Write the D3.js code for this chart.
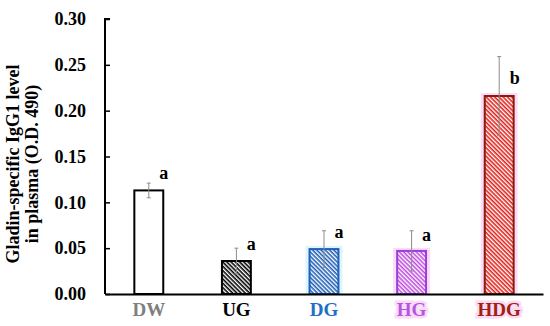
<!DOCTYPE html>
<meta charset="utf-8">
<title>Gliadin IgG1</title>
<style>
    body { margin: 0; background: #fff; }
    text { font-family: "Liberation Serif", "Times New Roman", serif; font-weight: bold; }
</style>
<body>
<div id="chart"></div>
<script src="https://d3js.org/d3.v7.min.js"></script>
<script>
    // data
    var groups = ["DW", "UG", "DG", "HG", "HDG"];
    var means = [0.113, 0.036, 0.049, 0.047, 0.216];
    var errs = [0.008, 0.014, 0.020, 0.022, 0.043];
    var letters = ["a", "a", "a", "a", "b"];
    var letterAt = [0.125, 0.048, 0.061, 0.058, 0.229];
    var yTicks = [0, 0.05, 0.10, 0.15, 0.20, 0.25, 0.30];

    var labelColor = ["#7f7f7f", "#000000", "#1f6fc4", "#b455e6", "#a3200f"];
    var strokeColor = ["#000000", "#000000", "#1f5fb8", "#9a3fd9", "#8b1a0a"];
    var hatchColor = [null, "#000000", "#1f5fb8", "#c04ce0", "#e0201a"];
    var glowColor = [null, null, "#dcf5ff", "#fbdcf7", "#fbdcf7"];

    var W = 550, H = 326;
    var margin = { top: 19, right: 7, bottom: 32, left: 105 };

    var svg = d3.select("#chart").append("svg")
        .attr("width", W).attr("height", H);

    var defs = svg.append("defs");
    hatchColor.forEach(function (c, i) {
        if (!c) return;
        var p = defs.append("pattern")
            .attr("id", "hatch" + i)
            .attr("patternUnits", "userSpaceOnUse")
            .attr("width", 3).attr("height", 3)
            .attr("patternTransform", "rotate(45)");
        p.append("rect").attr("width", 3).attr("height", 3).attr("fill", "#fff");
        p.append("rect").attr("width", 3).attr("height", 1.6).attr("fill", c);
    });

    var x = d3.scaleBand().domain(groups)
        .range([margin.left, W - margin.right])
        .paddingInner(0.67).paddingOuter(0.335);
    var y = d3.scaleLinear().domain([0, 0.30]).range([H - margin.bottom, margin.top]);

    // glow behind some bars
    svg.selectAll("rect.glow")
        .data(groups.filter(function (d, i) { return glowColor[i]; }))
        .enter().append("rect")
        .attr("class", "glow")
        .attr("x", function (d) { return x(d) - 4; })
        .attr("y", function (d) { return y(means[groups.indexOf(d)]) - 3; })
        .attr("width", x.bandwidth() + 8)
        .attr("height", function (d) { return y(0) - y(means[groups.indexOf(d)]) + 3; })
        .attr("fill", function (d) { return glowColor[groups.indexOf(d)]; });

    // bars
    svg.selectAll("rect.bar")
        .data(groups)
        .enter().append("rect")
        .attr("class", "bar")
        .attr("x", function (d) { return x(d); })
        .attr("y", function (d, i) { return y(means[i]); })
        .attr("width", x.bandwidth())
        .attr("height", function (d, i) { return y(0) - y(means[i]); })
        .attr("fill", function (d, i) { return hatchColor[i] ? "url(#hatch" + i + ")" : "#fff"; })
        .attr("stroke", function (d, i) { return strokeColor[i]; })
        .attr("stroke-width", 2);

    // error bars
    var eb = svg.selectAll("g.err").data(groups).enter().append("g")
        .attr("stroke", "#8c8c8c").attr("stroke-width", 1);
    eb.append("line")
        .attr("x1", function (d) { return x(d) + x.bandwidth() / 2; })
        .attr("x2", function (d) { return x(d) + x.bandwidth() / 2; })
        .attr("y1", function (d, i) { return y(means[i] - errs[i]); })
        .attr("y2", function (d, i) { return y(means[i] + errs[i]); });
    eb.append("line")
        .attr("x1", function (d) { return x(d) + x.bandwidth() / 2 - 2; })
        .attr("x2", function (d) { return x(d) + x.bandwidth() / 2 + 2; })
        .attr("y1", function (d, i) { return y(means[i] + errs[i]); })
        .attr("y2", function (d, i) { return y(means[i] + errs[i]); });
    eb.append("line")
        .attr("x1", function (d) { return x(d) + x.bandwidth() / 2 - 2; })
        .attr("x2", function (d) { return x(d) + x.bandwidth() / 2 + 2; })
        .attr("y1", function (d, i) { return y(means[i] - errs[i]); })
        .attr("y2", function (d, i) { return y(means[i] - errs[i]); });

    // significance letters
    svg.selectAll("text.sig").data(groups).enter().append("text")
        .attr("class", "sig")
        .attr("x", function (d) { return x(d) + x.bandwidth() - 4; })
        .attr("y", function (d, i) { return y(letterAt[i]); })
        .attr("font-size", "18px")
        .attr("fill", "#000")
        .text(function (d, i) { return letters[i]; });

    // y axis
    var yAxis = svg.append("g")
        .attr("transform", "translate(" + margin.left + ",0)")
        .call(d3.axisRight(y).tickValues(yTicks).tickSize(5).tickFormat(d3.format(".2f")));
    yAxis.select(".domain").attr("stroke", "#000").attr("stroke-width", 2)
        .attr("d", "M5," + y(0.30) + "H0V" + y(0));
    yAxis.selectAll(".tick line").attr("stroke", "#000").attr("stroke-width", 1.5);
    yAxis.selectAll(".tick text")
        .attr("x", -19).attr("text-anchor", "end")
        .attr("font-size", "18px").attr("fill", "#000");

    // x axis
    var xAxis = svg.append("g")
        .attr("transform", "translate(0," + y(0) + ")")
        .call(d3.axisBottom(x).tickSize(0).tickPadding(9));
    xAxis.select(".domain").attr("stroke", "#000").attr("stroke-width", 2);
    xAxis.selectAll(".tick text")
        .attr("font-size", "19px")
        .attr("fill", function (d) { return labelColor[groups.indexOf(d)]; })
        .style("paint-order", "stroke")
        .attr("stroke", function (d) { return (d === "HG" || d === "HDG") ? glowColor[groups.indexOf(d)] : "none"; })
        .attr("stroke-width", 5);

    // y label
    svg.append("text")
        .attr("transform", "translate(19,164) rotate(-90)")
        .attr("text-anchor", "middle")
        .attr("font-size", "18px")
        .attr("fill", "#000")
        .text("Gladin-specific IgG1 level");
    svg.append("text")
        .attr("transform", "translate(38,164) rotate(-90)")
        .attr("text-anchor", "middle")
        .attr("font-size", "18px")
        .attr("fill", "#000")
        .text("in plasma (O.D. 490)");
</script>
</body>
